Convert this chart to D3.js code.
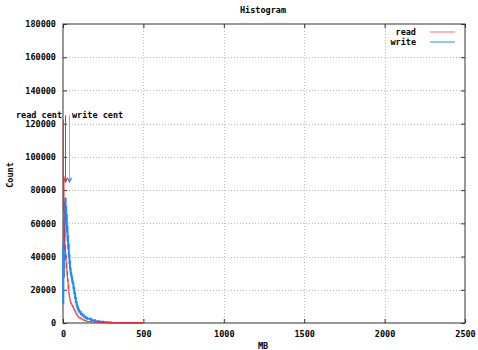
<!DOCTYPE html>
<html>
<head>
<meta charset="utf-8">
<script src="https://cdn.jsdelivr.net/npm/d3@7"></script>
<style>
  body { margin: 0; background: #fff; }
  text { font-family: "DejaVu Sans Mono", monospace; font-weight: bold; font-size: 8.5px; fill: #000; }
</style>
</head>
<body>
<div id="chart"></div>
<script>
// bin start positions in MB
const binsMB = [0, 2, 4, 6, 8, 10, 12, 14, 16, 18, 20, 22, 24, 26, 28, 30, 32, 34, 36, 38, 40,
  42, 44, 46, 48, 50, 52, 54, 56, 58, 60, 65, 70, 75, 80, 85, 90, 95, 100, 110, 120, 130, 140,
  150, 175, 200, 225, 250, 275, 300, 350, 400, 450, 500]

const readCounts = [122000, 68000, 88000, 58000, 50000, 54000, 44000, 47000, 38000, 41000, 33000,
  36000, 29000, 31000, 25000, 26500, 21000, 22500, 18000, 17000, 15500, 14500, 13500, 12800, 12200,
  11800, 11500, 11000, 10600, 10200, 9800, 8600, 7600, 6800, 5800, 4800, 4200, 3600, 3100, 2600,
  2000, 1600, 1200, 900, 700, 500, 400, 350, 300, 300, 250, 200, 200, 0]

const writeCounts = [12000, 48000, 28000, 62000, 52000, 72000, 66000, 75000, 64000, 70000, 60000,
  65000, 55000, 58000, 50000, 52000, 45000, 47000, 40000, 41000, 36000, 37000, 33000, 32000, 30000,
  29500, 28000, 27500, 26000, 25000, 24000, 21000, 18000, 15000, 12500, 10500, 9000, 7800, 6800,
  5400, 4500, 3700, 3100, 2600, 1600, 1000, 700, 450, 250, 0, 0, 0, 0, 0]

const xTicks = [0, 500, 1000, 1500, 2000, 2500]
const yTicks = [0, 20000, 40000, 60000, 80000, 100000, 120000, 140000, 160000, 180000]

// centroid arrows: label, MB, from count, to count
const centroids = [
  { label: 'read cent', mb: 13, from: 125000, to: 85000 },
  { label: 'write cent', mb: 35, from: 125000, to: 85000 }
]

const colors = { read: '#f02828', write: '#1a8cff' }
const legendColors = { read: '#ff9a9a', write: '#6cb4ff' }

const W = 478, H = 350
const margin = { left: 63, right: 13, top: 24, bottom: 27 }

const svg = d3.select('#chart').append('svg')
  .attr('width', W)
  .attr('height', H)

const x = d3.scaleLinear().domain([0, 2500]).range([margin.left, W - margin.right])
const y = d3.scaleLinear().domain([0, 180000]).range([H - margin.bottom, margin.top])

// grid
const grid = svg.append('g')
  .style('stroke', '#b8b8b8')
  .style('stroke-dasharray', '1,2')
  .style('stroke-width', 1)
grid.selectAll('.gx').data(xTicks.slice(1, -1)).enter().append('line')
  .attr('x1', d => Math.round(x(d)) + 0.5).attr('x2', d => Math.round(x(d)) + 0.5)
  .attr('y1', y(0)).attr('y2', y(180000))
grid.selectAll('.gy').data(yTicks.slice(1, -1)).enter().append('line')
  .attr('y1', d => Math.round(y(d)) + 0.5).attr('y2', d => Math.round(y(d)) + 0.5)
  .attr('x1', x(0)).attr('x2', x(2500))

// axes, gnuplot style: inward ticks, mirrored
const tickLen = 4
const xAxis = d3.axisBottom(x).tickValues(xTicks).tickSize(-tickLen).tickPadding(8).tickFormat(d3.format('d'))
const xTop = d3.axisTop(x).tickValues(xTicks).tickSize(-tickLen).tickFormat('')
const yAxis = d3.axisLeft(y).tickValues(yTicks).tickSize(-tickLen).tickPadding(7).tickFormat(d3.format('d'))
const yRight = d3.axisRight(y).tickValues(yTicks).tickSize(-tickLen).tickFormat('')

svg.append('g').attr('transform', `translate(0,${y(0)})`).call(xAxis)
svg.append('g').attr('transform', `translate(0,${y(180000)})`).call(xTop)
svg.append('g').attr('transform', `translate(${x(0)},0)`).call(yAxis)
svg.append('g').attr('transform', `translate(${x(2500)},0)`).call(yRight)

svg.selectAll('.domain').remove()
svg.selectAll('.tick line').style('stroke', '#333')
svg.selectAll('.tick text').style('font-family', '"DejaVu Sans Mono", monospace')
  .style('font-weight', 'bold').style('font-size', '8.5px')

// border
svg.append('rect')
  .attr('x', x(0)).attr('y', y(180000))
  .attr('width', x(2500) - x(0)).attr('height', y(0) - y(180000))
  .style('fill', 'none').style('stroke', '#333').style('stroke-width', 1)

// series
const line = d3.line()
  .x(d => x(d[0]))
  .y(d => y(d[1]))
  .curve(d3.curveStepAfter)

const plot = svg.append('g')
plot.append('path')
  .attr('d', line(binsMB.map((b, i) => [b, writeCounts[i]])))
  .style('fill', 'none').style('stroke', colors.write).style('stroke-width', 2)
plot.append('path')
  .attr('d', line(binsMB.map((b, i) => [b, readCounts[i]])))
  .style('fill', 'none').style('stroke', colors.read).style('stroke-width', 1.1)
  .style('opacity', 0.9)

// centroid arrows
centroids.forEach((c, i) => {
  const col = i === 0 ? colors.read : legendColors.write
  const cx = Math.round(x(c.mb)) + 0.5
  const y1 = y(c.from), y2 = y(c.to)
  plot.append('line')
    .attr('x1', cx).attr('x2', cx).attr('y1', y1).attr('y2', y2)
    .style('stroke', col).style('stroke-width', 1)
  plot.append('path')
    .attr('d', `M ${cx - 2} ${y2 - 4} L ${cx} ${y2} L ${cx + 2} ${y2 - 4}`)
    .style('fill', 'none').style('stroke', i === 0 ? colors.read : colors.write).style('stroke-width', 1.2)
})
svg.append('text').attr('x', 16).attr('y', 118).text(centroids[0].label)
svg.append('text').attr('x', 72).attr('y', 118).text(centroids[1].label)

// legend
const legend = svg.append('g')
;[['read', 32], ['write', 42]].forEach(([name, ly]) => {
  legend.append('text')
    .attr('x', 416).attr('y', ly + 3)
    .attr('text-anchor', 'end')
    .text(name)
  legend.append('line')
    .attr('x1', 430).attr('x2', 455).attr('y1', ly).attr('y2', ly)
    .style('stroke', legendColors[name]).style('stroke-width', 1.5)
})

// titles
svg.append('text').attr('x', 263).attr('y', 13).attr('text-anchor', 'middle').text('Histogram')
svg.append('text').attr('x', 263).attr('y', 349).attr('text-anchor', 'middle').text('MB')
svg.append('text')
  .attr('transform', 'translate(13,175) rotate(-90)')
  .attr('text-anchor', 'middle')
  .text('Count')
</script>
</body>
</html>
